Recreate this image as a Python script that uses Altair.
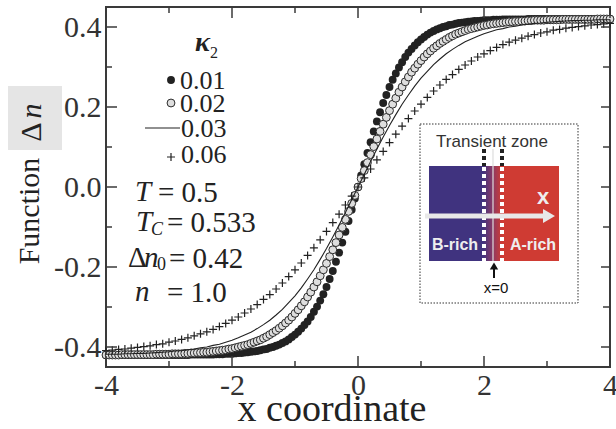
import altair as alt
import pandas as pd

# ---------------- data ----------------
x_fine = [round(-4.0 + 0.05 * i, 2) for i in range(161)]     # sampling grid of the circle series
x_coarse = [round(-4.0 + 0.1 * i, 1) for i in range(81)]     # sampling grid of line / plus series

# kappa_2 = 0.01 (filled circles)
y_k001 = [
    -0.420, -0.420, -0.420, -0.420, -0.420, -0.420, -0.420, -0.420, -0.420, -0.420,
    -0.420, -0.420, -0.420, -0.420, -0.420, -0.420, -0.420, -0.420, -0.420, -0.420,
    -0.420, -0.420, -0.420, -0.420, -0.420, -0.420, -0.420, -0.419, -0.419, -0.419,
    -0.419, -0.419, -0.419, -0.419, -0.419, -0.418, -0.418, -0.418, -0.417, -0.417,
    -0.417, -0.416, -0.415, -0.415, -0.414, -0.413, -0.412, -0.411, -0.410, -0.408,
    -0.406, -0.405, -0.402, -0.400, -0.397, -0.394, -0.390, -0.386, -0.381, -0.375,
    -0.369, -0.362, -0.354, -0.345, -0.336, -0.325, -0.312, -0.299, -0.284, -0.268,
    -0.250, -0.230, -0.210, -0.187, -0.164, -0.139, -0.112, -0.085, -0.057, -0.029,
    0.000, 0.029, 0.057, 0.085, 0.112, 0.139, 0.164, 0.187, 0.210, 0.230,
    0.250, 0.268, 0.284, 0.299, 0.312, 0.325, 0.336, 0.345, 0.354, 0.362,
    0.369, 0.375, 0.381, 0.386, 0.390, 0.394, 0.397, 0.400, 0.402, 0.405,
    0.406, 0.408, 0.410, 0.411, 0.412, 0.413, 0.414, 0.415, 0.415, 0.416,
    0.417, 0.417, 0.417, 0.418, 0.418, 0.418, 0.419, 0.419, 0.419, 0.419,
    0.419, 0.419, 0.419, 0.419, 0.420, 0.420, 0.420, 0.420, 0.420, 0.420,
    0.420, 0.420, 0.420, 0.420, 0.420, 0.420, 0.420, 0.420, 0.420, 0.420,
    0.420, 0.420, 0.420, 0.420, 0.420, 0.420, 0.420, 0.420, 0.420, 0.420,
    0.420,
]

# kappa_2 = 0.02 (open circles)
y_k002 = [
    -0.420, -0.420, -0.420, -0.420, -0.420, -0.419, -0.419, -0.419, -0.419, -0.419,
    -0.419, -0.419, -0.419, -0.419, -0.419, -0.419, -0.418, -0.418, -0.418, -0.418,
    -0.418, -0.417, -0.417, -0.417, -0.417, -0.416, -0.416, -0.415, -0.415, -0.414,
    -0.414, -0.413, -0.413, -0.412, -0.411, -0.410, -0.409, -0.408, -0.407, -0.405,
    -0.404, -0.402, -0.400, -0.398, -0.396, -0.394, -0.391, -0.388, -0.385, -0.382,
    -0.378, -0.374, -0.369, -0.364, -0.359, -0.353, -0.347, -0.340, -0.333, -0.325,
    -0.316, -0.307, -0.297, -0.287, -0.275, -0.263, -0.250, -0.237, -0.222, -0.207,
    -0.191, -0.174, -0.157, -0.139, -0.120, -0.101, -0.081, -0.061, -0.041, -0.021,
    0.000, 0.021, 0.041, 0.061, 0.081, 0.101, 0.120, 0.139, 0.157, 0.174,
    0.191, 0.207, 0.222, 0.237, 0.250, 0.263, 0.275, 0.287, 0.297, 0.307,
    0.316, 0.325, 0.333, 0.340, 0.347, 0.353, 0.359, 0.364, 0.369, 0.374,
    0.378, 0.382, 0.385, 0.388, 0.391, 0.394, 0.396, 0.398, 0.400, 0.402,
    0.404, 0.405, 0.407, 0.408, 0.409, 0.410, 0.411, 0.412, 0.413, 0.413,
    0.414, 0.414, 0.415, 0.415, 0.416, 0.416, 0.417, 0.417, 0.417, 0.417,
    0.418, 0.418, 0.418, 0.418, 0.418, 0.419, 0.419, 0.419, 0.419, 0.419,
    0.419, 0.419, 0.419, 0.419, 0.419, 0.419, 0.420, 0.420, 0.420, 0.420,
    0.420,
]

# kappa_2 = 0.03 (solid line)
y_k003 = [
    -0.418, -0.418, -0.418, -0.417, -0.417, -0.416, -0.416, -0.415, -0.414, -0.413,
    -0.412, -0.410, -0.409, -0.407, -0.405, -0.402, -0.400, -0.396, -0.393, -0.388,
    -0.383, -0.377, -0.370, -0.363, -0.354, -0.344, -0.333, -0.320, -0.306, -0.289,
    -0.272, -0.252, -0.230, -0.207, -0.181, -0.154, -0.125, -0.095, -0.064, -0.032,
    0.000, 0.032, 0.064, 0.095, 0.125, 0.154, 0.181, 0.207, 0.230, 0.252,
    0.272, 0.289, 0.306, 0.320, 0.333, 0.344, 0.354, 0.363, 0.370, 0.377,
    0.383, 0.388, 0.393, 0.396, 0.400, 0.402, 0.405, 0.407, 0.409, 0.410,
    0.412, 0.413, 0.414, 0.415, 0.416, 0.416, 0.417, 0.417, 0.418, 0.418,
    0.418,
]

# kappa_2 = 0.06 (plus signs)
y_k006 = [
    -0.409, -0.408, -0.406, -0.405, -0.403, -0.401, -0.399, -0.397, -0.394, -0.392,
    -0.388, -0.385, -0.381, -0.377, -0.372, -0.367, -0.362, -0.356, -0.349, -0.341,
    -0.333, -0.325, -0.315, -0.305, -0.294, -0.281, -0.269, -0.255, -0.240, -0.224,
    -0.207, -0.190, -0.171, -0.152, -0.132, -0.111, -0.089, -0.068, -0.045, -0.023,
    0.000, 0.023, 0.045, 0.068, 0.089, 0.111, 0.132, 0.152, 0.171, 0.190,
    0.207, 0.224, 0.240, 0.255, 0.269, 0.281, 0.294, 0.305, 0.315, 0.325,
    0.333, 0.341, 0.349, 0.356, 0.362, 0.367, 0.372, 0.377, 0.381, 0.385,
    0.388, 0.392, 0.394, 0.397, 0.399, 0.401, 0.403, 0.405, 0.406, 0.408,
    0.409,
]

legend_labels = ["0.01", "0.02", "0.03", "0.06"]
x_major = [-4, -2, 0, 2, 4]
x_minor = [-3, -1, 1, 3]
y_major = [-0.4, -0.2, 0.0, 0.2, 0.4]
y_minor = [-0.3, -0.1, 0.1, 0.3]

assert len(y_k001) == 161 and len(y_k002) == 161
assert len(y_k003) == 81 and len(y_k006) == 81

# ---------------- styling ----------------
W, H = 504, 360
SERIF = "Liberation Serif"
SANS = "Liberation Sans"
INK = "#222222"
FRAME = "#3a3a3a"

xs = alt.Scale(domain=[-4, 4], nice=False, zero=False)
ys = alt.Scale(domain=[-0.45, 0.45], nice=False, zero=False)

x_axis = alt.Axis(values=x_major, labelExpr="'' + datum.value", ticks=False, domain=False,
                  grid=False, labelFont=SERIF, labelFontSize=30, labelColor="#333333",
                  labelPadding=3, labelFlush=False, labelOverlap=False, title=None)
y_axis = alt.Axis(values=y_major, labelExpr="replace(format(datum.value, '.1f'), '\u2212', '-')",
                  ticks=False, domain=False, grid=False, labelFont=SERIF, labelFontSize=30,
                  labelColor="#333333", labelPadding=5, labelOverlap=False, title=None)

df_fine = pd.DataFrame({"x": x_fine, "k001": y_k001, "k002": y_k002})
df_coarse = pd.DataFrame({"x": x_coarse, "k003": y_k003, "k006": y_k006})
one = pd.DataFrame({"d": [0]})

layers = []

# data series -----------------------------------------------------------
PLUS = "M-1,0L1,0M0,-1L0,1"
filled = alt.Chart(df_fine).mark_point(shape="circle", filled=True, color=INK, size=62, opacity=1).encode(
    x=alt.X("x:Q", scale=xs, axis=x_axis), y=alt.Y("k001:Q", scale=ys, axis=y_axis))
openc = alt.Chart(df_fine).mark_point(shape="circle", filled=True, fill="#dedede", stroke="#2a2a2a",
                                      strokeWidth=1, size=62, opacity=1).encode(
    x=alt.X("x:Q", scale=xs, axis=x_axis), y=alt.Y("k002:Q", scale=ys, axis=y_axis))
line = alt.Chart(df_coarse).mark_line(color=INK, strokeWidth=1.1).encode(
    x=alt.X("x:Q", scale=xs, axis=x_axis), y=alt.Y("k003:Q", scale=ys, axis=y_axis))
plus = alt.Chart(df_coarse).mark_point(shape=PLUS, filled=False, stroke=INK, strokeWidth=1.2,
                                       size=64, opacity=1).encode(
    x=alt.X("x:Q", scale=xs, axis=x_axis), y=alt.Y("k006:Q", scale=ys, axis=y_axis))
layers += [filled, openc, line, plus]

# tick marks (inward) -------------------------------------------------
def xticks(vals, y0, y1):
    return alt.Chart(pd.DataFrame({"x": vals})).mark_rule(color=FRAME, strokeWidth=1.5).encode(
        x=alt.X("x:Q", scale=xs, axis=x_axis), y=alt.value(y0), y2=alt.value(y1))

def yticks(vals, x0, x1):
    return alt.Chart(pd.DataFrame({"yv": vals})).mark_rule(color=FRAME, strokeWidth=1.5).encode(
        y=alt.Y("yv:Q", scale=ys, axis=y_axis), x=alt.value(x0), x2=alt.value(x1))

layers += [xticks(x_major, H, H - 11), xticks(x_minor, H, H - 6),
           xticks(x_major, 0, 11), xticks(x_minor, 0, 6),
           yticks(y_major, 0, 11), yticks(y_minor, 0, 6),
           yticks(y_major, W, W - 9), yticks(y_minor, W, W - 7)]

# helpers for annotations -----------------------------------------------
def txt(s, x, y, size, font=SERIF, style="normal", weight="normal", color=INK,
        align="left", angle=0, baseline="middle"):
    return alt.Chart(one).mark_text(text=s, font=font, fontSize=size, fontStyle=style,
                                    fontWeight=weight, color=color, align=align,
                                    baseline=baseline, angle=angle).encode(
        x=alt.value(x), y=alt.value(y))

def rule(x, y, x2, y2, color, width, dash=None):
    kw = dict(color=color, strokeWidth=width)
    if dash is not None:
        kw["strokeDash"] = dash
    return alt.Chart(one).mark_rule(**kw).encode(
        x=alt.value(x), y=alt.value(y), x2=alt.value(x2), y2=alt.value(y2))

def rect(x, y, x2, y2, **kw):
    return alt.Chart(one).mark_rect(**kw).encode(
        x=alt.value(x), y=alt.value(y), x2=alt.value(x2), y2=alt.value(y2))

def sym(shape, x, y, size, **kw):
    return alt.Chart(one).mark_point(shape=shape, size=size, opacity=1, **kw).encode(
        x=alt.value(x), y=alt.value(y))

# legend ---------------------------------------------------------------
layers += [
    txt("\u03ba", 89, 36, 28, style="italic", weight="bold"),
    txt("2", 104, 46, 16),
    sym("circle", 65, 73, 62, filled=True, color=INK),
    txt(legend_labels[0], 74, 74, 26),
    sym("circle", 65, 96, 62, filled=True, fill="#dedede", stroke="#2a2a2a", strokeWidth=1),
    txt(legend_labels[1], 74, 97, 26),
    rule(39, 121, 74, 121, INK, 1.1),
    txt(legend_labels[2], 75, 122, 26),
    sym(PLUS, 65, 150, 64, filled=False, stroke=INK, strokeWidth=1.2),
    txt(legend_labels[3], 75, 148, 26),
]

# parameters -----------------------------------------------------------
layers += [
    txt("T", 29, 185, 29, style="italic"),
    txt("= 0.5", 52, 186, 29),
    txt("T", 30, 215, 29, style="italic"),
    txt("C", 45, 223, 18, style="italic"),
    txt("= 0.533", 61, 216, 29),
    txt("\u0394", 22, 251, 29),
    txt("n", 38, 251, 29, style="italic"),
    txt("0", 51, 258, 18),
    txt("= 0.42", 63, 252, 29),
    txt("n", 29, 285, 29, style="italic"),
    txt("= 1.0", 61, 286, 29),
]

# inset schematic -----------------------------------------------------
GRAD = alt.Gradient(gradient="linear",
                    stops=[alt.GradientStop(color="#40337f", offset=0),
                           alt.GradientStop(color="#8a3a66", offset=0.5),
                           alt.GradientStop(color="#cf3b33", offset=1)],
                    x1=0, x2=1, y1=0, y2=0)
layers += [
    rect(314, 117, 472, 296, fillOpacity=0, stroke="#333333", strokeWidth=1, strokeDash=[1.5, 1.5]),
    txt("Transient zone", 386, 135, 17, font=SANS, color="#333333", align="center"),
    rect(323, 159, 377, 254, color="#40337f"),
    rect(377, 159, 396, 254, color=GRAD),
    rect(396, 159, 453, 254, color="#cf3b33"),
    rule(387, 142, 387, 254, "#dddddd", 1.2),
    rule(378, 142, 378, 159, "#222222", 4, [4, 3]),
    rule(396, 142, 396, 159, "#222222", 4, [4, 3]),
    rule(378, 160, 378, 255, "#ffffff", 4, [4, 3]),
    rule(396, 160, 396, 255, "#ffffff", 4, [4, 3]),
    rule(319, 209, 440, 209, "#e8e8e8", 5),
    sym("triangle-right", 443, 209, 190, filled=True, color="#e8e8e8"),
    txt("x", 437, 190, 22, font=SANS, weight="bold", color="#eeeeee", align="center"),
    txt("B-rich", 349, 238, 16, font=SANS, weight="bold", color="#eeeeee", align="center"),
    txt("A-rich", 427, 238, 16, font=SANS, weight="bold", color="#eeeeee", align="center"),
    rule(388, 261, 388, 271, "#111111", 2),
    sym("triangle-up", 388, 259, 70, filled=True, color="#111111"),
    txt("x=0", 390, 281, 15, font=SANS, color="#111111", align="center"),
]

# axis titles -----------------------------------------------------------
layers += [
    rect(-98, 79, -44, 143, color="#e5e5e5"),
    txt("\u0394", -74, 125, 30, align="center", angle=270),
    txt("n", -74, 104, 30, style="italic", align="center", angle=270),
    txt("Function", -76, 204, 30, align="center", angle=270),
    txt("x coordinate", 226, 414, 38, align="center", baseline="alphabetic"),
]

chart = alt.layer(*layers).properties(
    width=W, height=H,
    padding={"left": 106, "top": 7, "right": 6, "bottom": 62},
    autosize=alt.AutoSizeParams(type="none"),
).configure_view(stroke=FRAME, strokeWidth=2)

chart.save("out.html", embed_options={"renderer": "svg", "actions": False})
